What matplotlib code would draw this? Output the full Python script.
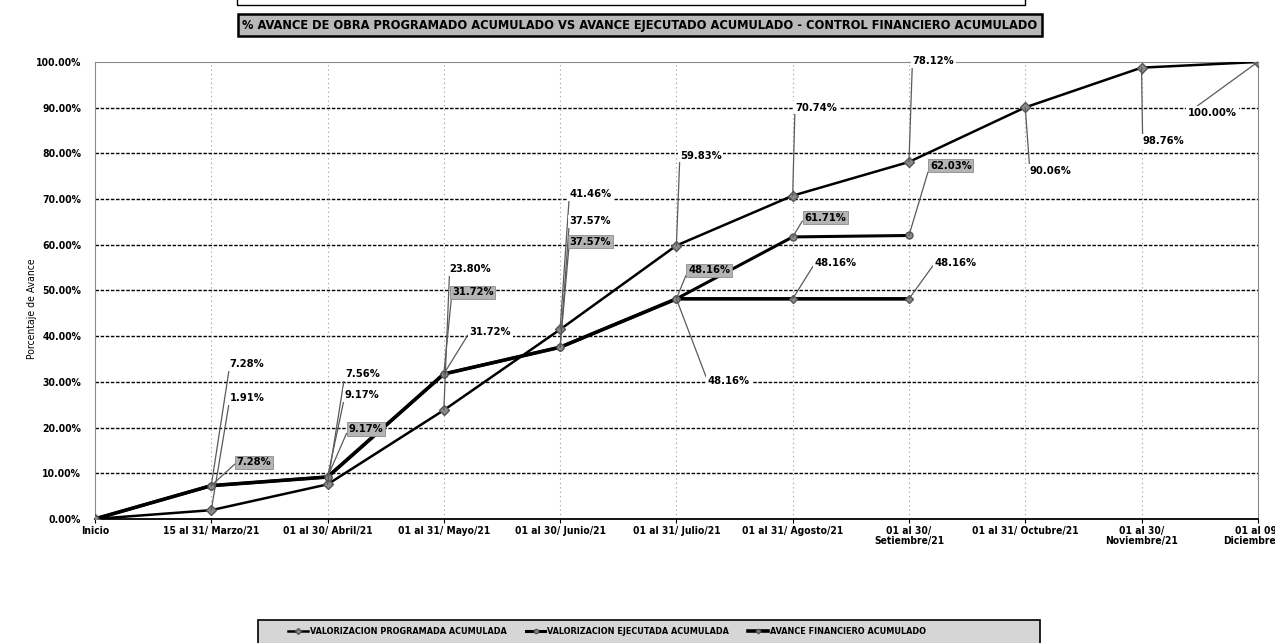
import matplotlib
matplotlib.use('Agg')
import matplotlib.pyplot as plt
from matplotlib import font_manager
from matplotlib.patches import Rectangle

# narrow bold font like the Excel original (Arial Narrow)
condensed = [f for f in font_manager.fontManager.ttflist
             if f.name == 'DejaVu Sans' and 'condensed' in str(f.stretch)]
plt.rcParams['font.family'] = ['DejaVu Sans']
if condensed:
    plt.rcParams['font.stretch'] = 'condensed'
plt.rcParams['font.weight'] = 'bold'

categorias = ['Inicio', '15 al 31/ Marzo/21', '01 al 30/ Abril/21', '01 al 31/ Mayo/21',
              '01 al 30/ Junio/21', '01 al 31/ Julio/21', '01 al 31/ Agosto/21',
              '01 al 30/\nSetiembre/21', '01 al 31/ Octubre/21', '01 al 30/\nNoviembre/21',
              '01 al 09/\nDiciembre/21']
programada = [0.0, 1.91, 7.56, 23.80, 41.46, 59.83, 70.74, 78.12, 90.06, 98.76, 100.00]
ejecutada = [0.0, 7.28, 9.17, 31.72, 37.57, 48.16, 61.71, 62.03]
financiero = [0.0, 7.28, 9.17, 31.72, 37.57, 48.16, 48.16, 48.16]

# label positions (data units) for each point after Inicio
pos_prog = [(1.16, 26.4), (2.15, 31.7), (3.05, 54.6), (4.08, 71.0), (5.03, 79.5),
            (6.02, 90.0), (7.03, 100.2), (8.04, 76.2), (9.01, 82.8), (9.40, 88.9)]
pos_ejec = [(1.22, 12.4), (2.18, 19.7), (3.07, 49.6), (4.08, 60.7), (5.10, 54.4),
            (6.10, 65.9), (7.18, 77.3)]
pos_fin = [(1.16, 33.8), (2.15, 27.1), (3.22, 40.8), (4.08, 65.1), (5.27, 30.1),
           (6.19, 55.9), (7.22, 55.9)]

fig = plt.figure(figsize=(12.75, 6.43), dpi=100)
ax = fig.add_axes([0.0745, 0.193, 0.912, 0.7106])

x_prog = list(range(len(programada)))
x_ejec = list(range(len(ejecutada)))
x_fin = list(range(len(financiero)))

l1, = ax.plot(x_prog, programada, color='black', lw=1.8, marker='D', ms=5,
              mfc='#8a8a8a', mec='#555555', zorder=4,
              label='VALORIZACION PROGRAMADA ACUMULADA')
l2, = ax.plot(x_ejec, ejecutada, color='black', lw=2.2, marker='o', ms=5,
              mfc='#8a8a8a', mec='#555555', zorder=4,
              label='VALORIZACION EJECUTADA ACUMULADA')
l3, = ax.plot(x_fin, financiero, color='black', lw=2.6, marker='D', ms=4,
              mfc='#8a8a8a', mec='#555555', zorder=3,
              label='AVANCE FINANCIERO ACUMULADO')


def etiquetas(xs, ys, posiciones, gris):
    for x, y, (lx, ly) in zip(xs[1:], ys[1:], posiciones):
        if gris:
            caja = dict(boxstyle='square,pad=0.15', fc='#b4b4b4', ec='#8c8c8c', lw=0.6)
        else:
            caja = dict(boxstyle='square,pad=0.15', fc='white', ec='none')
        ax.annotate('%.2f%%' % y, xy=(x, y), xytext=(lx, ly), ha='left', va='center',
                    fontsize=8, bbox=caja, zorder=6,
                    arrowprops=dict(arrowstyle='-', color='#5a5a5a', lw=0.9,
                                    shrinkA=0, shrinkB=0, relpos=(0, 0.5)))


etiquetas(x_prog, programada, pos_prog, False)
etiquetas(x_fin, financiero, pos_fin, False)
etiquetas(x_ejec, ejecutada, pos_ejec, True)

ax.set_xlim(0, len(categorias) - 1)
ax.set_ylim(0, 100)
ax.set_yticks(range(0, 101, 10))
ax.set_yticklabels(['%.2f%%' % v for v in range(0, 101, 10)], fontsize=7.5)
ax.set_xticks(range(len(categorias)))
ax.set_xticklabels(categorias, fontsize=7.4, linespacing=1.0)
ax.tick_params(axis='x', length=3, pad=2)
ax.tick_params(axis='y', length=0, pad=10)
ax.set_ylabel('Porcentaje de Avance', fontsize=7.5)
ax.yaxis.set_label_coords(-0.05, 0.46)

for v in range(10, 100, 10):
    ax.axhline(v, color='black', lw=1.0, ls=(0, (2.5, 1.2)), zorder=1)
for i in range(1, len(categorias) - 1):
    ax.axvline(i, color='#9a9a9a', lw=0.8, ls=(0, (1, 3)), zorder=1)

for s in ['left', 'top', 'right']:
    ax.spines[s].set_color('#8a8a8a')
    ax.spines[s].set_linewidth(0.8)
ax.spines['bottom'].set_color('black')
ax.spines['bottom'].set_linewidth(1.3)

# empty box at the very top
fig.patches.append(Rectangle((237 / 1275, 1 - 5 / 643), (1025 - 237) / 1275, 0.05,
                             transform=fig.transFigure, fill=False, ec='black', lw=1.0))

fig.text(0.502, 1 - 25 / 643,
         '% AVANCE DE OBRA PROGRAMADO ACUMULADO VS AVANCE EJECUTADO ACUMULADO - CONTROL FINANCIERO ACUMULADO',
         ha='center', va='center', fontsize=9.2,
         bbox=dict(boxstyle='square,pad=0.35', fc='#b9b9b9', ec='black', lw=1.8))

# legend frame (runs off the bottom of the picture like the original)
fig.patches.append(Rectangle((258 / 1275, -0.02), (1040 - 258) / 1275, 0.02 + 1 - 620 / 643,
                             transform=fig.transFigure, fc='#d6d6d6', ec='black', lw=1.2))
fig.legend(handles=[l1, l2, l3], loc='upper left',
           bbox_to_anchor=(284 / 1275, 1 - 623 / 643, (930 - 284) / 1275, 0.0),
           mode='expand', ncol=3, fontsize=6.5, frameon=False, handlelength=2.2,
           handletextpad=0.2, borderpad=0.45, markerscale=0.6, borderaxespad=0)

fig.savefig('out.png', dpi=100)
